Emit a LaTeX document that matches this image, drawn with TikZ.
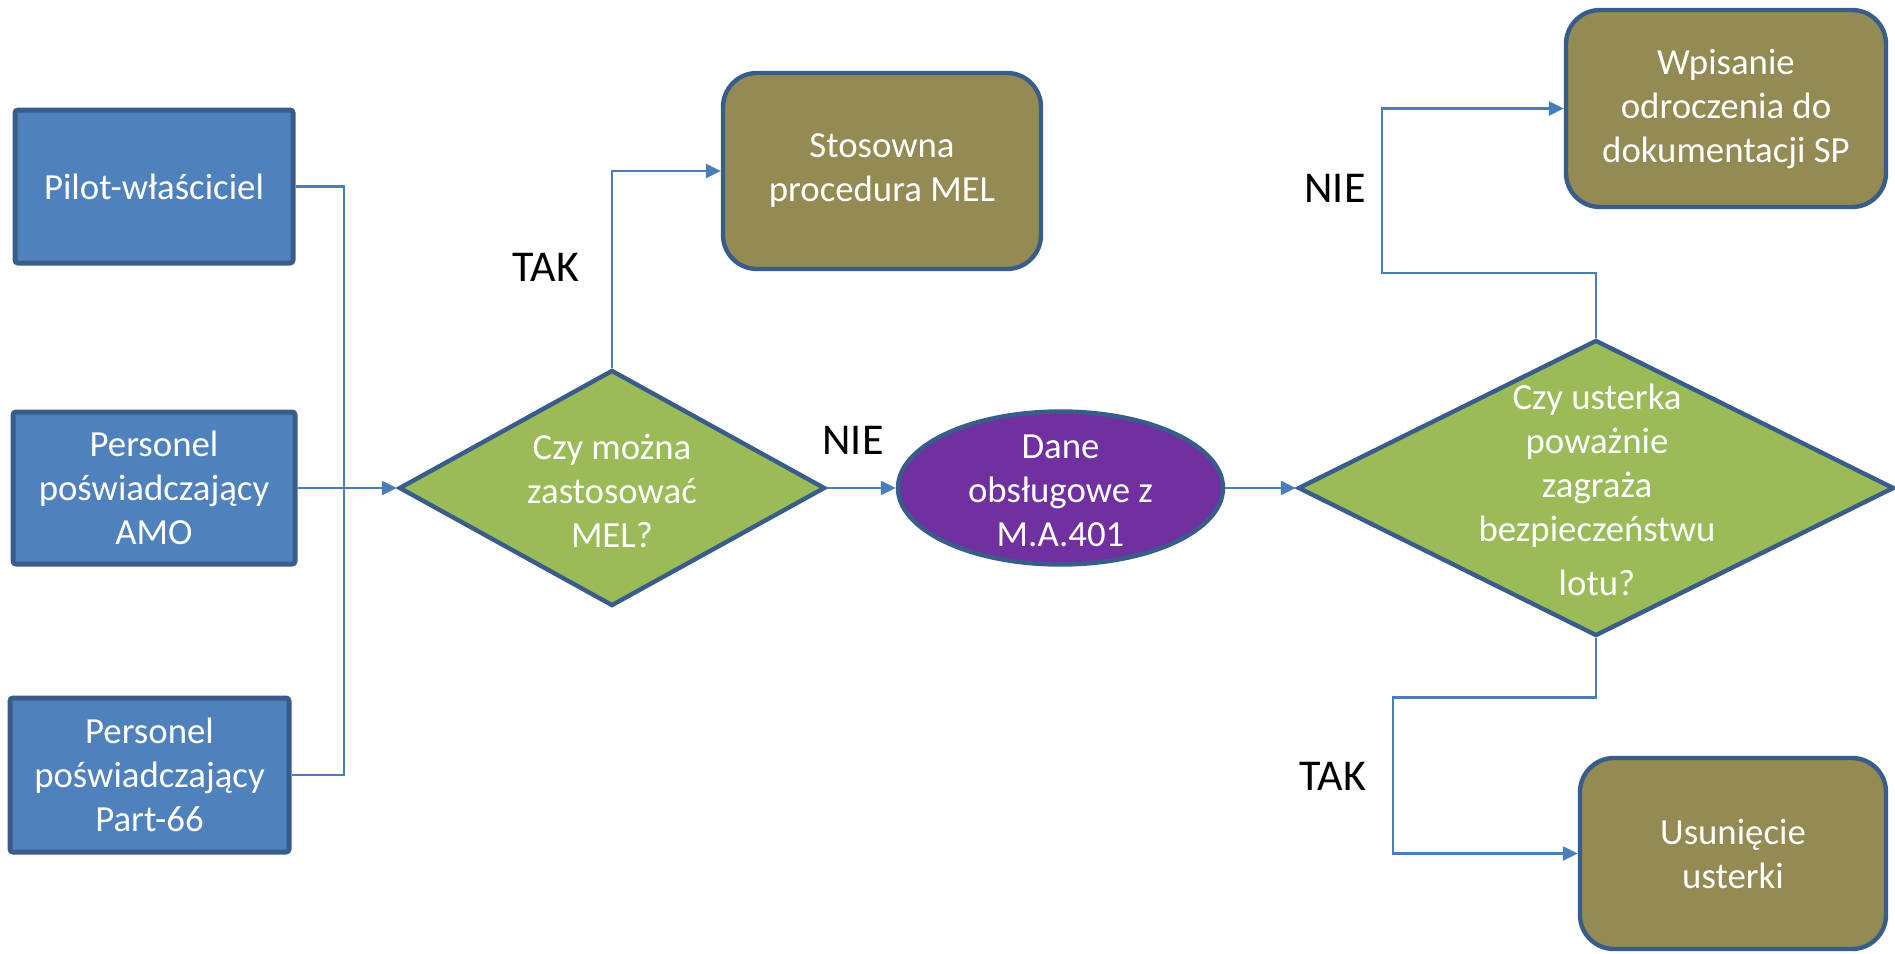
\documentclass[tikz,border=0pt]{standalone}
\usepackage{fontspec}
\setmainfont{Carlito}
\usetikzlibrary{shapes.geometric,arrows.meta}
\definecolor{boxblue}{HTML}{4F81BD}
\definecolor{edgeblue}{HTML}{385D8A}
\definecolor{dgreen}{HTML}{9BBB59}
\definecolor{oliveb}{HTML}{948A54}
\definecolor{purp}{HTML}{7030A0}
\definecolor{linkblue}{HTML}{4A7EBB}
\tikzset{
  boxfont/.style={font=\fontsize{18.4}{22}\selectfont},
  srcbox/.style={draw=edgeblue, fill=boxblue, line width=2.5pt, rounded corners=1.5pt, text=white, align=center, inner sep=0pt, boxfont},
  endbox/.style={draw=edgeblue, fill=oliveb, line width=2.2pt, rounded corners=17pt, text=white, align=center, inner sep=0pt, boxfont},
  decide/.style={draw=edgeblue, fill=dgreen, line width=2.2pt, diamond, inner sep=0pt},
  dataell/.style={draw=edgeblue, fill=purp, line width=2.2pt, ellipse, inner sep=0pt},
  intext/.style={text=white, align=center, inner sep=0pt, boxfont},
  answer/.style={font=\fontsize{22}{26}\selectfont, text=black, inner sep=0pt},
  link/.style={draw=linkblue, line width=1.2pt},
  arr/.style={link, -{Triangle[length=7.5pt,width=7pt]}},
}
\begin{document}
\begin{tikzpicture}[x=0.5pt,y=-0.5pt]
\useasboundingbox (0,0) rectangle (1895,953);
% source boxes
\node[srcbox, minimum width=139pt, minimum height=76.5pt] (pilot) at (154,186.5) {Pilot-właściciel};
\node[srcbox, minimum width=141pt, minimum height=76pt] (amo) at (154,488) {Personel\\poświadczający\\AMO};
\node[srcbox, minimum width=139.5pt, minimum height=77pt] (part) at (149.5,775) {Personel\\poświadczający\\Part-66};
% decision 1
\node[decide, minimum width=213pt, minimum height=118pt] (d1) at (612,488) {};
\node[intext] (d1t) at (612,491) {Czy można\\zastosować\\MEL?};
% MEL procedure
\node[endbox, minimum width=159pt, minimum height=98pt] (stos) at (882,171) {Stosowna\\procedura MEL};
% ellipse
\node[dataell, minimum width=162.5pt, minimum height=76.5pt] (ell) at (1060.5,488) {};
\node[intext] (ellt) at (1060.5,491) {Dane\\obsługowe z\\M.A.401};
% decision 2
\node[decide, minimum width=298pt, minimum height=148pt] (d2) at (1596,488) {};
\node[intext] (d2t) at (1597,490) {Czy usterka\\poważnie\\zagraża\\bezpieczeństwu\\[5pt]lotu?};
% outcomes
\node[endbox, minimum width=160pt, minimum height=98.5pt] (wp) at (1726,108.5) {Wpisanie\\odroczenia do\\dokumentacji SP};
\node[endbox, minimum width=153pt, minimum height=95.5pt] (us) at (1733,853.5) {Usunięcie\\usterki};
% labels
\node[answer] (tak1) at (546,267) {TAK};
\node[answer] (nie1) at (853,440) {NIE};
\node[answer] (nie2) at (1335,188) {NIE};
\node[answer] (tak2) at (1333,776) {TAK};
% helper coordinates
\coordinate (j) at (344,488);
\coordinate (c1) at (1382,273);
\coordinate (c2) at (1393,697.5);
% connectors
\draw[link] (pilot.east) -| (j);
\draw[link] (part.east) -| (j);
\draw[arr] (amo.east) -- (d1.west);
\draw[arr] (d1.north) |- (stos.west);
\draw[arr] (d1.east) -- (ell.west);
\draw[arr] (ell.east) -- (d2.west);
\draw[arr] (d2.north) |- (c1) |- (wp.west);
\draw[arr] (d2.south) |- (c2) |- (us.west);
\end{tikzpicture}
\end{document}
